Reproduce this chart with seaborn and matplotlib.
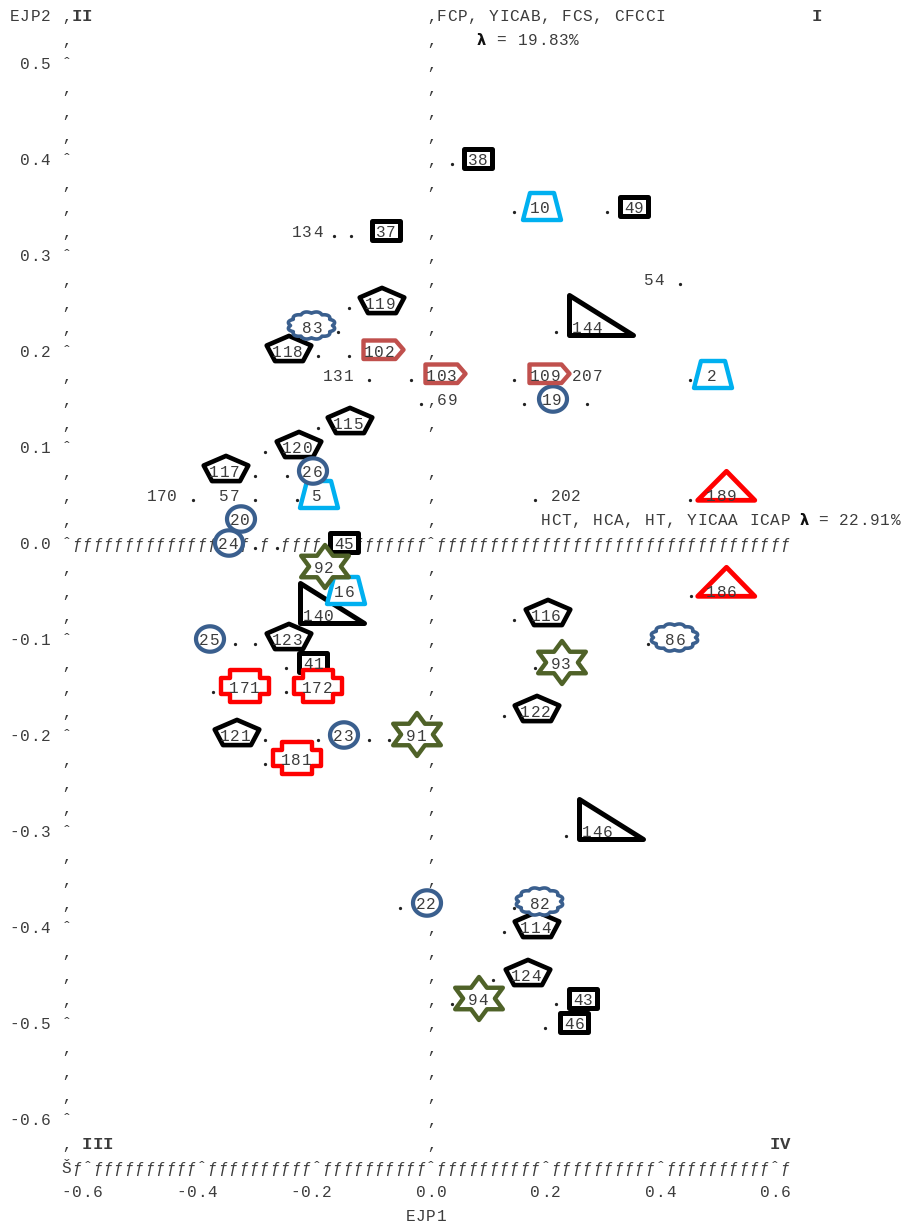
import numpy as np
import pandas as pd
import matplotlib
matplotlib.use("Agg")
import matplotlib.pyplot as plt
from matplotlib.path import Path
from matplotlib.markers import MarkerStyle
import seaborn as sns

# ---------------------------------------------------------------- data
# labelled observations, grouped by the outline that marks them
box_labels = ["38", "49", "37", "45", "41", "43", "46"]
box_x = [0.082, 0.354, -0.079, -0.152, -0.206, 0.265, 0.250]
box_y = [0.400, 0.350, 0.325, 0.000, -0.125, -0.475, -0.500]

trap_labels = ["10", "5", "16", "2"]
trap_x = [0.190, -0.199, -0.152, 0.489]
trap_y = [0.350, 0.050, -0.050, 0.175]

pent_labels = ["119", "118", "115", "120", "117", "123", "121", "116", "122", "114", "124"]
pent_x = [-0.089, -0.251, -0.145, -0.234, -0.361, -0.251, -0.342, 0.200, 0.182, 0.182, 0.165]
pent_y = [0.250, 0.200, 0.125, 0.100, 0.075, -0.100, -0.200, -0.075, -0.175, -0.400, -0.450]

arrow_labels = ["102", "103", "109"]
arrow_x = [-0.091, 0.018, 0.199]
arrow_y = [0.200, 0.175, 0.175]

rtri_labels = ["144", "140", "146"]
rtri_x = [0.272, -0.197, 0.290]
rtri_y = [0.225, -0.075, -0.300]

circ_labels = ["19", "26", "20", "24", "25", "23", "22"]
circ_x = [0.211, -0.207, -0.334, -0.354, -0.387, -0.153, -0.009]
circ_y = [0.150, 0.075, 0.025, 0.000, -0.100, -0.200, -0.375]

cloud_labels = ["83", "86", "82"]
cloud_x = [-0.207, 0.426, 0.190]
cloud_y = [0.225, -0.100, -0.375]

tri_labels = ["189", "186"]
tri_x = [0.507, 0.507]
tri_y = [0.050, -0.050]

cross_labels = ["171", "172", "181"]
cross_x = [-0.326, -0.199, -0.236]
cross_y = [-0.150, -0.150, -0.225]

star_labels = ["92", "93", "91", "94"]
star_x = [-0.187, 0.227, -0.026, 0.082]
star_y = [-0.025, -0.125, -0.200, -0.475]

plain_labels = ["134", "131", "69", "207", "54", "170", "57", "202"]
plain_x = [-0.216, -0.162, 0.028, 0.272, 0.389, -0.470, -0.352, 0.235]
plain_y = [0.325, 0.175, 0.150, 0.175, 0.275, 0.050, 0.050, 0.050]

# plotted points ('.')
dot_x = [0.036,
         0.144, 0.307,
         -0.169, -0.140,
         0.435,
         -0.143,
         -0.162, 0.218,
         -0.198, -0.143,
         -0.108, -0.035, 0.145, 0.452,
         -0.018, 0.163, 0.272,
         -0.198,
         -0.289,
         -0.307, -0.252,
         -0.416, -0.307, -0.234, 0.182, 0.452,
         -0.307, -0.269, -0.185,
         0.454,
         0.145,
         -0.342, -0.307, 0.379,
         -0.253, 0.182,
         -0.380, -0.253,
         0.127,
         -0.290, -0.198, -0.108, -0.073,
         -0.290,
         0.235,
         -0.054, 0.145,
         0.127,
         0.109,
         0.036, 0.218,
         0.199]
dot_y = [0.396,
         0.346, 0.346,
         0.321, 0.321,
         0.271,
         0.246,
         0.221, 0.221,
         0.196, 0.196,
         0.171, 0.171, 0.171, 0.171,
         0.146, 0.146, 0.146,
         0.121,
         0.096,
         0.071, 0.071,
         0.046, 0.046, 0.046, 0.046, 0.046,
         -0.004, -0.004, -0.004,
         -0.054,
         -0.079,
         -0.104, -0.104, -0.104,
         -0.129, -0.129,
         -0.154, -0.154,
         -0.179,
         -0.204, -0.204, -0.204, -0.204,
         -0.229,
         -0.304,
         -0.379, -0.379,
         -0.404,
         -0.454,
         -0.479, -0.479,
         -0.504]

x_ticks = [-0.6, -0.4, -0.2, 0.0, 0.2, 0.4, 0.6]
y_ticks = [0.5, 0.4, 0.3, 0.2, 0.1, 0.0, -0.1, -0.2, -0.3, -0.4, -0.5, -0.6]

# printer lines on which the x = 0 reference line is interrupted
ref_line_breaks = [8, 18]

x_title = "EJP1"
y_title = "EJP2"
axis2_vars = "FCP, YICAB, FCS, CFCCI"
axis2_inertia = "= 19.83%"
axis1_vars = "HCT, HCA, HT, YICAA ICAP"
axis1_inertia = "= 22.91%"

# ---------------------------------------------------------------- layout
DPI = 100
W, H = 901, 1223
X0_PX, XSCALE = 431.0, 573.0      # pixel column of x = 0, pixels per unit
Y0_PX, YSCALE = 544.0, 960.0      # pixel row of y = 0, pixels per unit

CW = 0.2 / 11                      # one printer column in x units
RH = 0.025                         # one printer line in y units
TOP = 0.55                         # y of the first printer line
FS = 11.6                          # glyph size (grid pitch is kept by CW)
BASE = 5.2 / YSCALE                # baseline sits below the line centre
MONO = "Liberation Mono"
INK = "#3c3c3c"

plt.rcParams["font.family"] = ["Liberation Mono", "DejaVu Sans"]

fig = plt.figure(figsize=(W / DPI, H / DPI), dpi=DPI)
ax = fig.add_axes([0, 0, 1, 1])


def row_y(k):
    return TOP - RH * k


def put_char(x, y, ch, weight="normal", z=2, size=FS):
    ax.text(x, y - BASE, ch, ha="center", va="baseline", fontsize=size,
            family=MONO, weight=weight, color=INK, zorder=z)


def glyph(c, k, ch, weight="normal", z=2):
    put_char(c * CW, row_y(k), ch, weight=weight, z=z)


def string_at(c0, k, s, weight="normal", size=FS):
    for i, ch in enumerate(s):
        if ch != " ":
            put_char((c0 + i) * CW, row_y(k), ch, weight=weight, size=size)


def string_from_x(x0, k, s):
    for i, ch in enumerate(s):
        if ch != " ":
            put_char(x0 + i * CW, row_y(k), ch)


# ---------------------------------------------------------------- markers
def px_marker(verts_down):
    """Closed outline given in pixels (y pointing down) around the label."""
    v = np.asarray(verts_down, float).copy()
    v[:, 1] *= -1
    v = np.vstack([v, v[:1]])
    codes = [Path.MOVETO] + [Path.LINETO] * (len(v) - 2) + [Path.CLOSEPOLY]
    ext = np.abs(v).max()
    size_pt = 2 * ext * 72 / DPI
    return MarkerStyle(Path(v, codes)), size_pt ** 2


def offset(verts, dx, dy):
    return [(a + dx, b + dy) for a, b in verts]


BOX = offset([(-13.6, -9.1), (13.6, -9.1), (13.6, 9.1), (-13.6, 9.1)], 0, -1.5)
TRAP = offset([(-12, -13.5), (12, -13.5), (19, 13.5), (-19, 13.5)], 1.5, -2)
PENT = offset([(0, -12.6), (22.3, -3), (14, 12.6), (-14, 12.6), (-22.3, -3)], 1.5, -4)
ARROW = [(-16, -12), (16, -12), (24, -2.75), (16, 6.5), (-16, 6.5)]
RTRI = [(-18, -33.2), (-18, 7.3), (46.2, 7.3)]
TRI = [(4, -25.2), (32.3, 3.8), (-24.8, 3.8)]
CROSS = offset([(-15, -16.5), (15, -16.5), (15, -8), (24, -8), (24, 8), (15, 8),
                (15, 16.5), (-15, 16.5), (-15, 8), (-24, 8), (-24, -8), (-15, -8)], 1, -2)

t = np.linspace(0, 2 * np.pi, 180, endpoint=False)
CIRCLE = list(zip(0.5 + 14 * np.cos(t), -1.5 + 12.7 * np.sin(t)))

tc = np.linspace(0, 2 * np.pi, 450, endpoint=False)
bump = 1 + 0.13 * np.abs(np.sin(12 * tc / 2))
CLOUD = list(zip(-1 + 21.0 * bump * np.cos(tc), -3 + 12.3 * bump * np.sin(tc)))

STAR = []
for i in range(12):
    ang = np.deg2rad(90 + 30 * i)
    r = 1.0 if i % 2 == 0 else 1 / np.sqrt(3)
    STAR.append((0.5 + 27.5 * r * np.cos(ang), -2 - 21.5 * r * np.sin(ang)))

shape_layers = [
    (rtri_labels, rtri_x, rtri_y, RTRI, "#000000", 5.0),
    (pent_labels, pent_x, pent_y, PENT, "#000000", 4.6),
    (box_labels, box_x, box_y, BOX, "#000000", 5.0),
    (trap_labels, trap_x, trap_y, TRAP, "#00B0F0", 4.4),
    (circ_labels, circ_x, circ_y, CIRCLE, "#3A5F8E", 4.2),
    (cross_labels, cross_x, cross_y, CROSS, "#FF0000", 4.4),
    (cloud_labels, cloud_x, cloud_y, CLOUD, "#3A5F8E", 3.6),
    (star_labels, star_x, star_y, STAR, "#4F6228", 4.4),
    (arrow_labels, arrow_x, arrow_y, ARROW, "#C0504D", 4.4),
    (tri_labels, tri_x, tri_y, TRI, "#FF0000", 4.8),
]

for labs, xs, ys, verts, col, lw in shape_layers:
    marker, size = px_marker(verts)
    df = pd.DataFrame({"x": xs, "y": ys})
    sns.scatterplot(data=df, x="x", y="y", marker=marker, s=size,
                    facecolor="white", edgecolor=col, linewidth=lw * 72 / DPI,
                    ax=ax, legend=False, zorder=3)

# plotted points
dots = pd.DataFrame({"x": dot_x, "y": dot_y})
sns.scatterplot(data=dots, x="x", y="y", marker="o", s=5.5, color="#222222",
                linewidth=0, ax=ax, legend=False, zorder=2)

# point labels, one printer column per character
all_labels, all_x, all_y = [], [], []
for labs, xs, ys, *_ in shape_layers:
    all_labels += labs
    all_x += xs
    all_y += ys
all_labels += plain_labels
all_x += plain_x
all_y += plain_y
for lab, x, y in zip(all_labels, all_x, all_y):
    n = len(lab)
    for i, ch in enumerate(lab):
        put_char(x + (i - (n - 1) / 2) * CW, y, ch, z=5)

# ---------------------------------------------------------------- printer axes
x_tick_cols = [int(round(v / CW)) for v in x_ticks]
y_tick_rows = [int(round((TOP - v) / RH)) for v in y_ticks]
LEFT = x_tick_cols[0] - 2
RIGHT = x_tick_cols[-1] + 1
ZERO_ROW = int(round(TOP / RH))
LAST_ROW = y_tick_rows[-1] + 1

# cells already used by labels and points
occupied = set()
for lab, x, y in zip(all_labels, all_x, all_y):
    k = int(round((TOP - y) / RH))
    c0 = int(round(x / CW - (len(lab) - 1) / 2))
    for i in range(len(lab)):
        occupied.add((c0 + i, k))
for x, y in zip(dot_x, dot_y):
    occupied.add((int(round(x / CW)), int(round((TOP - y) / RH))))

# vertical axis on the left and reference line at x = 0
for k in range(0, LAST_ROW + 1):
    glyph(LEFT, k, "\u02c6" if k in y_tick_rows else "\u201a")
    if k == ZERO_ROW or k in ref_line_breaks:
        continue
    if (0, k) not in occupied:
        glyph(0, k, "\u201a")

# reference line at y = 0
for c in range(LEFT + 1, RIGHT + 1):
    if (c, ZERO_ROW) in occupied:
        continue
    glyph(c, ZERO_ROW, "\u02c6" if c == 0 else "\u0192")

# horizontal axis
AX_ROW = LAST_ROW + 1
glyph(LEFT, AX_ROW, "\u0160")
for c in range(LEFT + 1, RIGHT + 1):
    glyph(c, AX_ROW, "\u02c6" if c in x_tick_cols else "\u0192")

# tick labels
for v, c in zip(x_ticks, x_tick_cols):
    s = f"{v:.1f}"
    string_at(c - len(s) // 2, AX_ROW + 1, s)
for v, k in zip(y_ticks, y_tick_rows):
    s = f"{v:.1f}"
    string_at(LEFT - 2 - len(s) + 1, k, s)

# titles and axis descriptions
string_at(LEFT - 5, 0, y_title)
string_at(-len(x_title) // 2, AX_ROW + 2, x_title)
string_at(LEFT + 1, 0, "II", weight="bold", size=12.5)
string_at(RIGHT + 3, 0, "I", weight="bold", size=12.5)
string_at(LEFT + 2, LAST_ROW, "III", weight="bold", size=12.5)
string_at(RIGHT - 1, LAST_ROW, "IV", weight="bold", size=12.5)

string_at(1, 0, axis2_vars)
ax.text(0.0878, row_y(1) - BASE, "\u03bb", ha="center", va="baseline",
        fontsize=10.5, family="DejaVu Sans", weight="bold", color="#111111", zorder=2)
string_from_x(0.1227, 1, axis2_inertia)

string_at(11, 21, axis1_vars)
ax.text(0.651, row_y(21) - BASE, "\u03bb", ha="center", va="baseline",
        fontsize=10.5, family="DejaVu Sans", weight="bold", color="#111111", zorder=2)
string_from_x(0.6832, 21, axis1_inertia)

ax.set_xlim(-X0_PX / XSCALE, (W - X0_PX) / XSCALE)
ax.set_ylim((Y0_PX - H) / YSCALE, Y0_PX / YSCALE)
ax.set_axis_off()

fig.savefig("out.png", dpi=DPI, facecolor="white")
